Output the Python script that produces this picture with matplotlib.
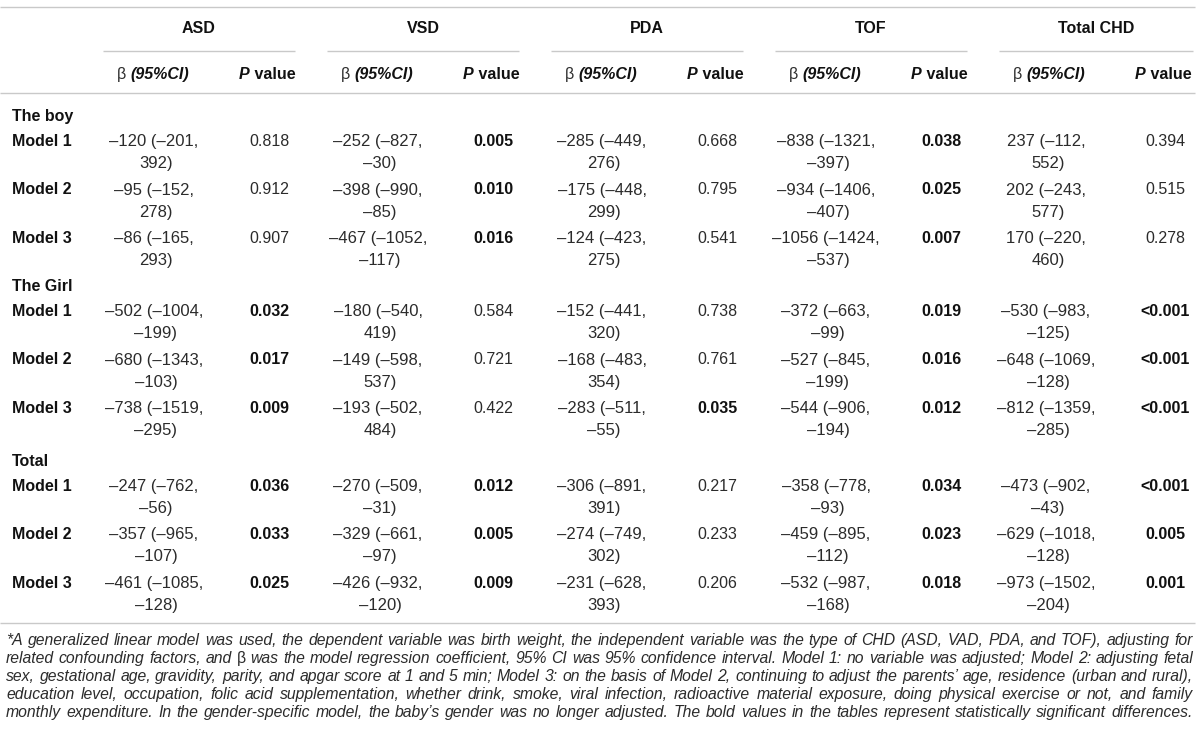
import matplotlib
matplotlib.use("Agg")
import matplotlib.pyplot as plt

plt.rcParams['font.family'] = ['Liberation Sans', 'DejaVu Sans']

# Datos de la tabla
grupos = ['ASD', 'VSD', 'PDA', 'TOF', 'Total CHD']
secciones = ['The boy', 'The Girl', 'Total']
modelos = ['Model 1', 'Model 2', 'Model 3']

# beta (95%CI) por fila (seccion x modelo), una columna por grupo
beta = [
    ['–120 (–201, 392)', '–252 (–827, –30)', '–285 (–449, 276)', '–838 (–1321, –397)', '237 (–112, 552)'],
    ['–95 (–152, 278)', '–398 (–990, –85)', '–175 (–448, 299)', '–934 (–1406, –407)', '202 (–243, 577)'],
    ['–86 (–165, 293)', '–467 (–1052, –117)', '–124 (–423, 275)', '–1056 (–1424, –537)', '170 (–220, 460)'],
    ['–502 (–1004, –199)', '–180 (–540, 419)', '–152 (–441, 320)', '–372 (–663, –99)', '–530 (–983, –125)'],
    ['–680 (–1343, –103)', '–149 (–598, 537)', '–168 (–483, 354)', '–527 (–845, –199)', '–648 (–1069, –128)'],
    ['–738 (–1519, –295)', '–193 (–502, 484)', '–283 (–511, –55)', '–544 (–906, –194)', '–812 (–1359, –285)'],
    ['–247 (–762, –56)', '–270 (–509, –31)', '–306 (–891, 391)', '–358 (–778, –93)', '–473 (–902, –43)'],
    ['–357 (–965, –107)', '–329 (–661, –97)', '–274 (–749, 302)', '–459 (–895, –112)', '–629 (–1018, –128)'],
    ['–461 (–1085, –128)', '–426 (–932, –120)', '–231 (–628, 393)', '–532 (–987, –168)', '–973 (–1502, –204)'],
]
pval = [
    ['0.818', '0.005', '0.668', '0.038', '0.394'],
    ['0.912', '0.010', '0.795', '0.025', '0.515'],
    ['0.907', '0.016', '0.541', '0.007', '0.278'],
    ['0.032', '0.584', '0.738', '0.019', '<0.001'],
    ['0.017', '0.721', '0.761', '0.016', '<0.001'],
    ['0.009', '0.422', '0.035', '0.012', '<0.001'],
    ['0.036', '0.012', '0.217', '0.034', '<0.001'],
    ['0.033', '0.005', '0.233', '0.023', '0.005'],
    ['0.025', '0.009', '0.206', '0.018', '0.001'],
]

nota = [
    "*A generalized linear model was used, the dependent variable was birth weight, the independent variable was the type of CHD (ASD, VAD, PDA, and TOF), adjusting for",
    "related confounding factors, and β was the model regression coefficient, 95% CI was 95% confidence interval. Model 1: no variable was adjusted; Model 2: adjusting fetal",
    "sex, gestational age, gravidity, parity, and apgar score at 1 and 5 min; Model 3: on the basis of Model 2, continuing to adjust the parents’ age, residence (urban and rural),",
    "education level, occupation, folic acid supplementation, whether drink, smoke, viral infection, radioactive material exposure, doing physical exercise or not, and family",
    "monthly expenditure. In the gender-specific model, the baby’s gender was no longer adjusted. The bold values in the tables represent statistically significant differences.",
]

# layout (pixel)
FS = 11.5
FS_VAL = 12
C_TXT = '#2b2b2b'
C_BOLD = '#111111'
C_LINEA = '#c9c9c9'
x_grupo = [103, 327, 551, 775, 999]
ancho_grupo = [192, 192, 192, 192, 194]
y_secc = [115, 285, 460]
paso_fila = 48.5
dy_sec_mod = 25
dy_linea2 = 22


def es_sig(p):
    if p.startswith('<'):
        return True
    return float(p) < 0.05


fig = plt.figure(figsize=(12, 7.4), dpi=100)
ax = fig.add_axes([0, 0, 1, 1])
ax.set_xlim(0, 1200)
ax.set_ylim(740, 0)
ax.axis('off')
renderer = fig.canvas.get_renderer()


def txt(x, y, s, **kw):
    kw.setdefault('fontsize', FS)
    kw.setdefault('color', C_TXT)
    # y = centro de las mayusculas
    return ax.text(x, y + kw['fontsize'] * 100 / 72 * 0.36, s, va='baseline', **kw)


def ancho(t):
    return t.get_window_extent(renderer).width


def piezas(xc, y, partes):
    # dibuja trozos con estilos distintos, centrados en xc
    objs = [txt(0, y, s, ha='left', **kw) for s, kw in partes]
    ws = [ancho(o) for o in objs]
    x = xc - sum(ws) / 2
    for o, w in zip(objs, ws):
        o.set_x(x)
        x += w


def hline(x0, x1, y, lw=1.0):
    ax.plot([x0, x1], [y, y], color=C_LINEA, lw=lw, solid_capstyle='butt')


# reglas
hline(0, 1195, 7)
hline(0, 1195, 93)
hline(0, 1195, 623)

# cabeceras
for g, x0, w in zip(grupos, x_grupo, ancho_grupo):
    txt(x0 + w / 2, 27, g, ha='center', fontweight='bold', color=C_BOLD)
    hline(x0, x0 + w, 51)
    piezas(x0 + 50, 73, [('β ', {}), ('(95%CI)', dict(fontweight='bold', fontstyle='italic', color=C_BOLD))])
    piezas(x0 + 164, 73, [('P', dict(fontweight='bold', fontstyle='italic', color=C_BOLD)),
                          (' value', dict(fontweight='bold', color=C_BOLD))])

# filas
fila = 0
for s, ys in zip(secciones, y_secc):
    txt(12, ys, s, fontweight='bold', color=C_BOLD)
    for m_i, m in enumerate(modelos):
        y = ys + dy_sec_mod + m_i * paso_fila
        txt(12, y, m, fontweight='bold', color=C_BOLD)
        for g_i, x0 in enumerate(x_grupo):
            xb = x0 + (53 if g_i < 4 else 49)
            l1, l2 = beta[fila][g_i].split(', ')
            txt(xb - 2, y, l1 + ',', ha='center', fontsize=FS_VAL)
            txt(xb, y + dy_linea2, l2, ha='center', fontsize=FS_VAL)
            p = pval[fila][g_i]
            if es_sig(p):
                txt(x0 + 166, y, p, ha='center', fontweight='bold', color=C_BOLD)
            else:
                txt(x0 + 166, y, p, ha='center')
        fila += 1

# nota al pie, justificada; tamano ajustado a la linea mas larga
x_izq, x_der = 6, 1193
prueba = [ax.text(0, 0, l, fontsize=10, fontstyle='italic') for l in nota]
ancho_max = max(ancho(t) for t in prueba)
for t in prueba:
    t.remove()
fs_nota = 10 * (x_der - x_izq - 2) / ancho_max

for i, linea in enumerate(nota):
    y = 639 + i * 18.1
    palabras = linea.split(' ')
    objs = []
    for p in palabras:
        estilo = 'normal' if p == 'β' else 'italic'
        objs.append(txt(0, y, p, ha='left', fontsize=fs_nota, fontstyle=estilo, color=C_TXT))
    ws = [ancho(o) for o in objs]
    hueco = (x_der - x_izq - sum(ws)) / (len(objs) - 1)
    x = x_izq
    for o, w in zip(objs, ws):
        o.set_x(x)
        x += w + hueco

fig.savefig('out.png', dpi=100)
